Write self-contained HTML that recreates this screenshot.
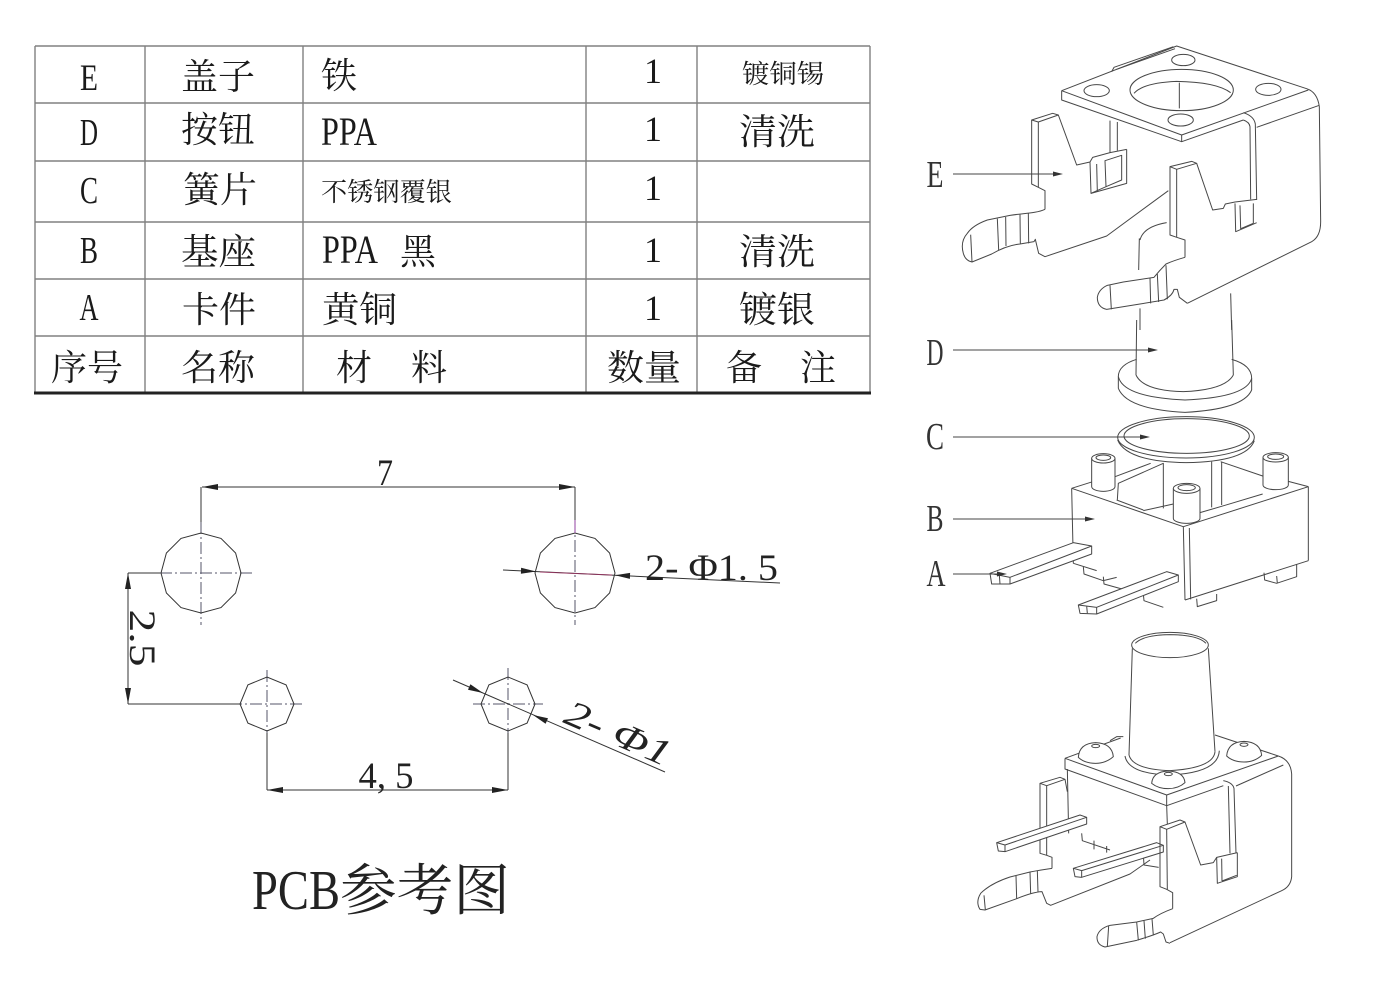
<!DOCTYPE html>
<html><head><meta charset="utf-8">
<style>
html,body{margin:0;padding:0;background:#fff;}
svg{display:block;}
</style></head><body>
<svg width="1400" height="1000" viewBox="0 0 1400 1000" xmlns="http://www.w3.org/2000/svg">
<rect width="1400" height="1000" fill="#fff"/>

<!-- ===== TABLE ===== -->
<g stroke="#808080" stroke-width="1.4" fill="none">
<path d="M35,46H870 M35,103H870 M35,161H870 M35,222H870 M35,279H870 M35,336H870"/>
<path d="M35,46V393 M145,46V393 M303,46V393 M586,46V393 M697,46V393 M870,46V393"/>
</g>
<path d="M34,393H871" stroke="#222" stroke-width="3"/>

<g fill="#1a1a1a" font-family="'Liberation Serif', 'Noto Serif CJK SC', serif">
<!-- col 1 letters -->
<text x="89" y="90" font-size="37" text-anchor="middle" textLength="18" lengthAdjust="spacingAndGlyphs">E</text>
<text x="89" y="145" font-size="38" text-anchor="middle" textLength="18" lengthAdjust="spacingAndGlyphs">D</text>
<text x="89" y="203" font-size="38" text-anchor="middle" textLength="18" lengthAdjust="spacingAndGlyphs">C</text>
<text x="89" y="263" font-size="38" text-anchor="middle" textLength="18" lengthAdjust="spacingAndGlyphs">B</text>
<text x="89" y="320" font-size="38" text-anchor="middle" textLength="19" lengthAdjust="spacingAndGlyphs">A</text>
<text x="51" y="380" font-size="36" textLength="72" lengthAdjust="spacingAndGlyphs">序号</text>

<!-- col 2 -->
<text x="181" y="89" font-size="36" textLength="74" lengthAdjust="spacingAndGlyphs">盖子</text>
<text x="181" y="142" font-size="36" textLength="74" lengthAdjust="spacingAndGlyphs">按钮</text>
<text x="183" y="202" font-size="36" textLength="74" lengthAdjust="spacingAndGlyphs">簧片</text>
<text x="181" y="264" font-size="36" textLength="75" lengthAdjust="spacingAndGlyphs">基座</text>
<text x="182" y="322" font-size="36" textLength="74" lengthAdjust="spacingAndGlyphs">卡件</text>
<text x="181" y="380" font-size="36" textLength="74" lengthAdjust="spacingAndGlyphs">名称</text>

<!-- col 3 -->
<text x="321" y="88" font-size="36">铁</text>
<text x="321" y="145" font-size="40" textLength="56" lengthAdjust="spacingAndGlyphs">PPA</text>
<text x="321" y="201" font-size="26" textLength="131" lengthAdjust="spacingAndGlyphs">不锈钢覆银</text>
<text x="322" y="263" font-size="40" textLength="56" lengthAdjust="spacingAndGlyphs">PPA</text>
<text x="400" y="264" font-size="36">黑</text>
<text x="322" y="322" font-size="36" textLength="75" lengthAdjust="spacingAndGlyphs">黄铜</text>
<text x="336" y="380" font-size="36">材</text>
<text x="411" y="380" font-size="36">料</text>

<!-- col 4 -->
<text x="653" y="83" font-size="36" text-anchor="middle">1</text>
<text x="653" y="141" font-size="36" text-anchor="middle">1</text>
<text x="653" y="200" font-size="36" text-anchor="middle">1</text>
<text x="653" y="262" font-size="36" text-anchor="middle">1</text>
<text x="653" y="320" font-size="36" text-anchor="middle">1</text>
<text x="607" y="380" font-size="36" textLength="74" lengthAdjust="spacingAndGlyphs">数量</text>

<!-- col 5 -->
<text x="742" y="83" font-size="26" textLength="82" lengthAdjust="spacingAndGlyphs">镀铜锡</text>
<text x="739" y="144" font-size="36" textLength="76" lengthAdjust="spacingAndGlyphs">清洗</text>
<text x="739" y="264" font-size="36" textLength="76" lengthAdjust="spacingAndGlyphs">清洗</text>
<text x="739" y="322" font-size="36" textLength="76" lengthAdjust="spacingAndGlyphs">镀银</text>
<text x="726" y="380" font-size="36">备</text>
<text x="800" y="380" font-size="36">注</text>
</g>

<!-- ===== PCB DRAWING ===== -->
<g stroke="#55566a" stroke-width="1" fill="none" stroke-dasharray="12,3,2,3">
<path d="M201,522V625 M160,573H252"/>
<path d="M575,520V625"/>
<path d="M267,670V733 M230,704H302"/>
<path d="M508,668V733 M473,704H543"/>
</g>
<g stroke="#333" stroke-width="1" fill="none">
<polygon points="241,573 235.6,593 221,607.6 201,613 181,607.6 166.4,593 161,573 166.4,553 181,538.4 201,533 221,538.4 235.6,553"/>
<polygon points="615,573 609.6,593 595,607.6 575,613 555,607.6 540.4,593 535,573 540.4,553 555,538.4 575,533 595,538.4 609.6,553"/>
<polygon points="294,704 286.1,723.1 267,731 247.9,723.1 240,704 247.9,684.9 267,677 286.1,684.9"/>
<polygon points="535,704 527.1,723.1 508,731 488.9,723.1 481,704 488.9,684.9 508,677 527.1,684.9"/>
<path d="M202,487H575 M201,487V522 M575,487V520"/>
<path d="M128,573V704 M128,573H160 M128,704H240"/>
<path d="M267,790H508 M267,733V790 M508,733V790"/>
<path d="M503,570 L780,583"/>
<path d="M453,680 L665,772"/>
</g>
<path d="M540,572 L612,575" stroke="#b0306a" stroke-width="1" opacity="0.7"/>
<path d="M575,520 V533" stroke="#9040a0" stroke-width="1"/>
<g fill="#222">
<polygon points="202,487 218,484 218,490"/>
<polygon points="575,487 559,484 559,490"/>
<polygon points="128,573 125,589 131,589"/>
<polygon points="128,704 125,688 131,688"/>
<polygon points="267,790 283,787 283,793"/>
<polygon points="508,790 492,787 492,793"/>
<polygon points="536,571.5 521.1,567.8 520.9,573.8"/>
<polygon points="615,575.2 630.1,572.9 629.9,578.9"/>
<polygon points="483,693 468,689.8 470.4,684.2"/>
<polygon points="533,715 545.6,723.7 548,718.2"/>
</g>
<g fill="#222" font-family="'Liberation Serif', 'Noto Serif CJK SC', serif">
<text x="385" y="485" font-size="37" text-anchor="middle" textLength="16" lengthAdjust="spacingAndGlyphs">7</text>
<text x="386" y="788" font-size="37" text-anchor="middle" textLength="55" lengthAdjust="spacingAndGlyphs">4, 5</text>
<text transform="translate(130,638) rotate(90)" font-size="37" text-anchor="middle" textLength="57" lengthAdjust="spacingAndGlyphs">2.5</text>
<text x="645" y="580" font-size="37" textLength="133" lengthAdjust="spacingAndGlyphs">2- Φ1. 5</text>
<text transform="translate(562,722) rotate(23.5)" font-size="37" textLength="112" lengthAdjust="spacingAndGlyphs" font-style="italic">2- Φ1</text>
<text x="252" y="909" font-size="56" textLength="88" lengthAdjust="spacingAndGlyphs">PCB</text>
<text x="340" y="910" font-size="56" textLength="170" lengthAdjust="spacingAndGlyphs">参考图</text>
</g>

<!-- ===== 3D: E cover ===== -->
<g transform="translate(910,40) scale(0.33333)" stroke="#474747" stroke-width="3" fill="none" stroke-linejoin="round">
<path d="M688,595 L686,690 M690,805 L690,870 M962,760 L965,870 M690,600 Q700,560 770,548"/>
<path d="M455,152 L800,18 L1190,146 Q1222,156 1228,200 L1232,545 Q1232,590 1205,605 L832,790"/>
<path d="M455,152 L815,285 L1195,150"/>
<path d="M455,152 L455,180 L815,305 L815,285"/>
<path d="M815,305 L1000,240"/>
<path d="M1000,218 Q1032,228 1036,252 L1040,480"/>
<path d="M1000,240 Q1018,246 1020,260 L1022,478"/>
<path d="M1040,262 L1228,196"/>
<path d="M605,95 L612,82 L790,20 M620,88 L795,26"/>
<ellipse cx="815" cy="150" rx="155" ry="62"/>
<path d="M672,160 Q700,128 800,124 Q920,126 962,158 M808,128 L808,205"/>
<ellipse cx="560" cy="152" rx="38" ry="18"/>
<ellipse cx="820" cy="60" rx="35" ry="17"/>
<ellipse cx="1075" cy="148" rx="38" ry="18"/>
<ellipse cx="812" cy="240" rx="38" ry="18"/>
<path d="M365,240 L428,220 L445,225 L385,246 Z"/>
<path d="M365,240 L365,432 L385,442 L405,452 L405,508"/>
<path d="M385,246 L385,442"/>
<path d="M445,225 L500,375 L540,366 L548,352 L600,338 L650,328"/>
<path d="M540,366 L543,460 L650,430 L650,328"/>
<path d="M585,362 L635,346 L635,420 L588,440 Z M543,460 L588,440 M560,372 L562,455"/>
<path d="M600,242 L600,338 M622,246 L622,332"/>
<path d="M405,508 C380,520 340,520 300,526 L232,540 Q188,556 172,580 Q150,605 160,640 Q166,662 186,666 L245,642 Q290,616 330,612 L372,605 L376,598 L386,640 L405,650 L590,588 L775,452"/>
<path d="M182,584 L186,666 M262,536 L266,630 M287,531 L288,618 M330,524 L331,612 M355,520 L356,610"/>
<path d="M780,380 L845,364 L860,370 L800,388 Z"/>
<path d="M780,380 L780,585 L800,592 L825,600 L825,652"/>
<path d="M800,388 L800,592"/>
<path d="M860,370 L908,510 L940,505 L946,492 L975,486 L1040,478"/>
<path d="M975,490 L977,575 L1040,548"/>
<path d="M990,496 L992,566 L1030,550 M1030,490 L1030,550"/>
<path d="M825,652 Q790,662 768,672 Q748,692 732,712 L640,726 L592,736 Q566,748 562,772 Q562,802 590,808 L690,792 L762,780 Q788,766 792,748 L802,748 L808,772 L832,790"/>
<path d="M600,736 L604,808 M720,714 L722,790 M742,702 L746,786 M768,676 L772,778"/>
</g>

<!-- ===== 3D: D, C, B, A ===== -->
<g transform="translate(910,320) scale(0.33333)" stroke="#474747" stroke-width="3" fill="none" stroke-linejoin="round">
<path d="M680,0 L678,165 M965,0 L970,165"/>
<path d="M678,165 Q700,212 820,215 Q945,210 970,165"/>
<path d="M680,118 Q625,135 625,170 Q640,232 825,240 Q1010,232 1025,175 Q1025,135 965,118"/>
<path d="M625,170 L625,205 M1025,175 L1025,210"/>
<path d="M625,205 Q650,268 825,277 Q1000,268 1025,210"/>
<ellipse cx="828" cy="352" rx="205" ry="62"/>
<ellipse cx="830" cy="348" rx="188" ry="52"/>
<path d="M623,360 Q650,425 828,428 Q1010,425 1033,362"/>
<path d="M485,505 L820,620 L1195,500"/>
<path d="M485,505 L548,485 M615,470 L722,430 M932,425 L1058,468 M1135,484 L1195,500"/>
<path d="M485,505 L490,730 M820,620 L825,840 M838,624 L842,838 M1195,500 L1195,722 M825,840 L1195,722 M490,730 L560,752"/>
<path d="M622,540 L625,490 L760,430 L760,565 M905,425 L905,562 M935,425 L935,555 M700,572 L790,552 M870,578 L945,556 L1058,522 M620,540 L700,570"/>
<path d="M520,740 L522,762 L580,782 L620,772 M580,770 L582,792 L640,808 M700,822 L702,842 L760,862 M860,836 L862,860 L920,842 L920,822 M1062,758 L1064,780 L1100,790 L1160,770 L1160,732 M1100,768 L1102,790"/>
<path d="M545,415 L545,500 A35,14 0 0,0 615,500 L615,415" fill="#fff"/>
<ellipse cx="580" cy="415" rx="35" ry="14" fill="#fff"/>
<ellipse cx="580" cy="413" rx="22" ry="8"/>
<path d="M1059,412 L1059,495 A38,14 0 0,0 1135,495 L1135,412" fill="#fff"/>
<ellipse cx="1097" cy="412" rx="38" ry="14" fill="#fff"/>
<ellipse cx="1097" cy="410" rx="24" ry="8"/>
<path d="M790,505 L790,595 A40,15 0 0,0 870,595 L870,505" fill="#fff"/>
<ellipse cx="830" cy="505" rx="40" ry="15" fill="#fff"/>
<ellipse cx="830" cy="503" rx="26" ry="9"/>
<polygon points="240,760 490,668 545,678 545,702 300,792 245,792" fill="#fff"/>
<path d="M300,772 L545,678 M240,760 L300,772 L300,792 M268,764 L270,792"/>
<polygon points="505,855 770,755 805,765 805,785 560,882 510,880" fill="#fff"/>
<path d="M560,862 L805,765 M505,855 L560,862 L560,882 M530,858 L532,880"/>
</g>

<!-- labels E D C B A -->
<g stroke="#444" stroke-width="1">
<path d="M953,174H1055 M953,350H1150 M953,437H1142 M953,519H1087 M953,574H999"/>
</g>
<g fill="#333">
<polygon points="1063,174 1053,171.5 1053,176.5"/>
<polygon points="1158,350 1148,347.5 1148,352.5"/>
<polygon points="1150,437 1140,434.5 1140,439.5"/>
<polygon points="1095,519 1085,516.5 1085,521.5"/>
<polygon points="1007,574 997,571.5 997,576.5"/>
</g>
<g fill="#333" font-family="'Liberation Serif', serif" font-size="38" text-anchor="middle">
<text x="935" y="187" textLength="17" lengthAdjust="spacingAndGlyphs">E</text>
<text x="935" y="365" textLength="17" lengthAdjust="spacingAndGlyphs">D</text>
<text x="935" y="449" textLength="18" lengthAdjust="spacingAndGlyphs">C</text>
<text x="935" y="531" textLength="17" lengthAdjust="spacingAndGlyphs">B</text>
<text x="936" y="586" textLength="19" lengthAdjust="spacingAndGlyphs">A</text>
</g>

<!-- ===== 3D: assembled ===== -->
<g transform="translate(950,620) scale(0.33333)" stroke="#474747" stroke-width="3" fill="none" stroke-linejoin="round">
<path d="M345,415 L650,525 L985,408"/>
<path d="M345,415 L512,354 M795,345 L985,408"/>
<path d="M345,415 L345,447 L650,557 L650,525 M650,557 L820,497"/>
<path d="M985,408 Q1022,420 1025,462 L1025,770 Q1022,800 995,812 L660,968"/>
<path d="M820,482 Q848,488 852,505 L858,700 M835,498 L840,700 M858,498 L1000,435"/>
<path d="M352,447 L356,640 M650,557 L652,612"/>
<path d="M480,362 L500,350 L520,350"/>
<path d="M547,85 L537,405 M775,85 L795,395"/>
<ellipse cx="660" cy="75" rx="115" ry="38"/>
<path d="M556,70 Q580,45 660,44 Q745,45 768,70"/>
<path d="M537,405 Q548,448 660,452 Q790,444 795,395"/>
<path d="M525,408 Q535,462 660,465 Q805,458 808,392"/>
<path d="M385,412 Q388,370 437,368 Q486,370 490,410 Q468,430 437,430 Q404,430 385,412 Z" fill="#fff"/>
<ellipse cx="437" cy="378" rx="12" ry="5"/>
<path d="M830,408 Q833,366 882,364 Q931,366 935,406 Q913,426 882,426 Q849,426 830,408 Z" fill="#fff"/>
<ellipse cx="882" cy="374" rx="12" ry="5"/>
<path d="M605,490 Q608,455 655,453 Q702,455 705,488 Q685,506 655,506 Q625,506 605,490 Z" fill="#fff"/>
<ellipse cx="655" cy="462" rx="12" ry="5"/>
<path d="M270,490 L330,472 L345,478 L290,497 Z"/>
<path d="M270,490 L270,700 L290,706 L306,712 L306,745"/>
<path d="M290,497 L290,706"/>
<path d="M345,478 L352,515"/>
<path d="M306,745 Q270,750 240,756 L180,771 Q122,790 92,820 Q76,846 90,868 L105,870 L200,836 Q250,816 276,815 L290,850 L302,856 L540,762 L600,720"/>
<path d="M102,826 L106,869 M198,768 L200,836 M240,756 L242,822 M262,752 L264,816"/>
<path d="M395,640 L397,662 L480,690 M432,662 L432,688 M470,678 L470,698 M580,705 L582,735 L626,742"/>
<polygon points="140,668 390,585 410,592 410,612 165,695 145,693" fill="#fff"/>
<path d="M165,675 L410,592 M140,668 L165,675 L165,695"/>
<polygon points="370,745 620,668 640,676 640,696 395,772 375,770" fill="#fff"/>
<path d="M395,752 L640,676 M370,745 L395,752 L395,772"/>
<path d="M630,620 L690,600 L705,606 L650,628 Z"/>
<path d="M630,620 L630,800 L650,808 L668,818 L668,866"/>
<path d="M650,628 L652,808"/>
<path d="M705,606 L752,735 L790,728 L800,712 L862,698"/>
<path d="M800,712 L802,790 L862,770 L862,698 M815,716 L816,783 M816,783 L860,766"/>
<path d="M668,866 Q630,880 610,895 L560,906 L480,916 Q446,926 441,950 Q440,975 465,981 L560,961 Q610,946 632,936 L640,942 L648,966 L660,970"/>
<path d="M476,918 L472,979 M560,906 L565,961 M582,902 L586,956 M606,896 L610,946"/>
</g>
</svg>
</body></html>
